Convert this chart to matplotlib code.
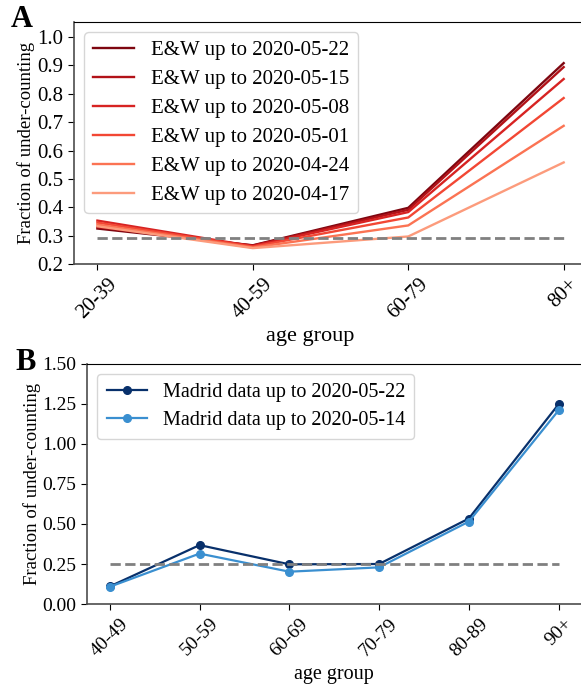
import numpy as np
import matplotlib
matplotlib.use("Agg")
import matplotlib.pyplot as plt

plt.rcParams['font.family'] = 'serif'
plt.rcParams['font.serif'] = ['Liberation Serif', 'DejaVu Serif']

# Panel A: England & Wales
ew_groups = ['20-39', '40-59', '60-79', '80+']
ew_labels = ['E&W up to 2020-05-22', 'E&W up to 2020-05-15', 'E&W up to 2020-05-08',
             'E&W up to 2020-05-01', 'E&W up to 2020-04-24', 'E&W up to 2020-04-17']
ew_0522 = [0.325, 0.266, 0.398, 0.908]
ew_0515 = [0.330, 0.265, 0.391, 0.894]
ew_0508 = [0.353, 0.263, 0.383, 0.852]
ew_0501 = [0.346, 0.261, 0.364, 0.785]
ew_0424 = [0.339, 0.258, 0.336, 0.687]
ew_0417 = [0.333, 0.256, 0.297, 0.558]
ew_ref = 0.293

# Panel B: Madrid
md_groups = ['40-49', '50-59', '60-69', '70-79', '80-89', '90+']
md_labels = ['Madrid data up to 2020-05-22', 'Madrid data up to 2020-05-14']
md_0522 = [0.110, 0.368, 0.248, 0.250, 0.534, 1.248]
md_0514 = [0.108, 0.315, 0.202, 0.229, 0.515, 1.210]
md_ref = 0.25

fig = plt.figure(figsize=(5.81, 6.87), dpi=100)
axA = fig.add_axes([0.1275, 0.6157, 0.8828, 0.3523])
axB = fig.add_axes([0.1504, 0.1208, 0.8496, 0.3494])

# --- A ---
ew_series = [ew_0522, ew_0515, ew_0508, ew_0501, ew_0424, ew_0417]
reds = plt.cm.Reds(np.linspace(0.95, 0.35, len(ew_series)))
xa = np.arange(len(ew_groups))
for vals, lab, c in zip(ew_series, ew_labels, reds):
    axA.plot(xa, vals, color=c, lw=1.7, label=lab)
axA.plot([xa[0], xa[-1]], [ew_ref, ew_ref], ls='--', color='gray', lw=2)
axA.set_ylim(0.2, 1.053)
axA.set_yticks(np.arange(0.2, 1.01, 0.1))
axA.set_xticks(xa)
axA.set_xticklabels(ew_groups, rotation=45)
axA.tick_params(labelsize=15)
axA.set_xlabel('age group', fontsize=16)
axA.xaxis.set_label_coords(0.46, -0.26)
axA.set_ylabel('Fraction of under-counting', fontsize=13.5, labelpad=1)
axA.legend(loc='upper left', fontsize=15, handlelength=2.0, labelspacing=0.45,
           borderpad=0.4)

# --- B ---
blues = ['#08306b', '#3a8fd0']
xb = np.arange(len(md_groups))
for vals, lab, c in zip([md_0522, md_0514], md_labels, blues):
    axB.plot(xb, vals, color=c, lw=1.6, marker='o', ms=5.5, label=lab)
axB.plot([xb[0], xb[-1]], [md_ref, md_ref], ls='--', color='gray', lw=2)
axB.set_ylim(0, 1.5)
axB.set_yticks([0, 0.25, 0.5, 0.75, 1.0, 1.25, 1.5])
axB.set_yticklabels(['0.00', '0.25', '0.50', '0.75', '1.00', '1.25', '1.50'])
axB.set_xticks(xb)
axB.set_xticklabels(md_groups, rotation=45)
axB.tick_params(labelsize=14)
axB.set_xlabel('age group', fontsize=14.5)
axB.set_ylabel('Fraction of under-counting', fontsize=13.5, labelpad=1)
axB.legend(loc='upper left', fontsize=14.5, handlelength=2.0, labelspacing=0.45,
           borderpad=0.45)

for ax in (axA, axB):
    ax.spines['right'].set_visible(False)
    ax.tick_params(length=4.5)
    for s in ('left', 'bottom'):
        ax.spines[s].set_color('0.3')
        ax.spines[s].set_linewidth(1.2)

fig.text(22 / 581, 1 - 5 / 687, 'A', fontsize=22, fontweight='bold', ha='center', va='top')
fig.text(26 / 581, 1 - 348 / 687, 'B', fontsize=22, fontweight='bold', ha='center', va='top')

fig.savefig('out.png', dpi=100)
